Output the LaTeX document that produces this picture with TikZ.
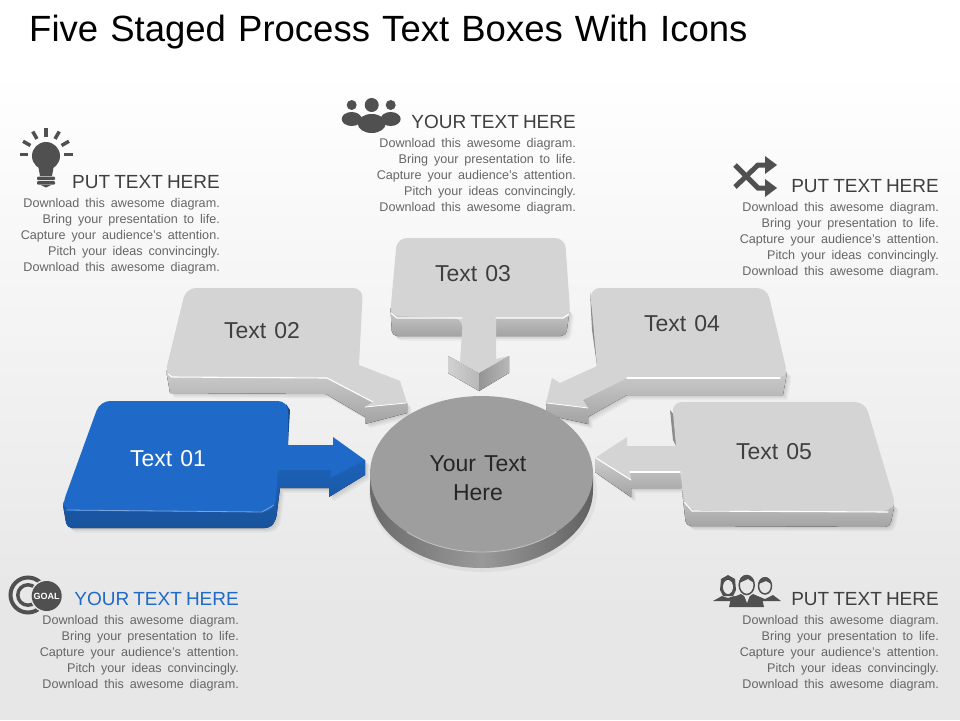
\documentclass[tikz,border=0pt]{standalone}
\usepackage{fontspec}
\setmainfont{Liberation Sans}
\newcommand{\wordgap}[1]{\spaceskip #1em\relax}
\newcommand{\blurbtext}{Download this awesome diagram.\\Bring your presentation to life.\\Capture your audience's attention.\\Pitch your ideas convincingly.\\Download this awesome diagram.}
\definecolor{icongrey}{HTML}{505050}
\definecolor{bodygrey}{HTML}{666666}
\definecolor{headgrey}{HTML}{3F3F3F}
\definecolor{goalblue}{HTML}{1F6AC8}
\definecolor{pagegrey}{HTML}{E7E7E7}

\begin{document}
\begin{tikzpicture}[x=1pt,y=-1pt]
	\tikzstyle{softshade}=[preaction={fill=black,fill opacity=.05,transform canvas={xshift=1.5pt,yshift=-1.5pt}},preaction={fill=black,fill opacity=.05,transform canvas={xshift=3pt,yshift=-3pt}},preaction={fill=black,fill opacity=.04,transform canvas={xshift=4.5pt,yshift=-4.5pt}}]
	\tikzstyle{greyside}=[top color=black!20,bottom color=black!36]
	\tikzstyle{greytop}=[fill=black!17]
	\tikzstyle{glint}=[draw=white,line width=1.1pt,line cap=round]
	\tikzstyle{boxlabel}=[font=\fontsize{23}{26}\selectfont\wordgap{.35},text=headgrey]
	\tikzstyle{captionhead}=[anchor=base east,inner sep=0pt,font=\fontsize{19}{20}\selectfont\wordgap{.216}]
	\tikzstyle{captionbody}=[anchor=north east,inner sep=0pt,align=right,text=bodygrey,font=\fontsize{12.6}{16}\selectfont\wordgap{.47}]
	\tikzstyle{icon}=[fill=icongrey,draw=none]
	\tikzstyle{iconline}=[draw=icongrey,line width=5pt]

	% page
	\useasboundingbox (0,0) rectangle (960,720);
	\fill[white] (0,0) rectangle (960,720);
	\fill[top color=white,bottom color=pagegrey] (0,70) rectangle (960,610);
	\fill[pagegrey] (0,610) rectangle (960,720);
	\node[anchor=base west,inner sep=0pt,font=\fontsize{36.5}{40}\selectfont\wordgap{.334}] (title) at (29,41) {Five Staged Process Text Boxes With Icons};

	% box 02
	\fill[greyside,softshade] (166,370) -- (170,393) -- (326,394) -- (365,417) -- (365,424) -- (407,413) -- (407,403) -- (327,370) -- cycle;
	\fill[greytop] (359,365) -- (400,381) -- (407,403) -- (365,407) -- (373,402) -- (327,378) [rounded corners=5pt] -- (170,377) -- (166,370) [rounded corners=10pt] -- (186,288) -- (363,288) [sharp corners] -- cycle;
	\draw[glint] (168,374) -- (172,377) -- (327,378) -- (373,402);
	\draw[glint,line width=.8pt] (365,407) -- (406,403);

	% box 03
	\fill[greyside,softshade] (390.5,308) [rounded corners=5pt] -- (392,336) -- (566,336) -- (570,308) [sharp corners] -- cycle;
	\fill[left color=black!18,right color=black!28] (448,356) -- (448,373) -- (479,391) -- (479,373) -- cycle;
	\fill[left color=black!42,right color=black!28] (479,373) -- (479,391) -- (509,373) -- (509,356) -- cycle;
	\fill[greytop] (463,318) -- (460,363) -- (448,356) -- (479,373) -- (509,356) -- (496,359) -- (496,318) [rounded corners=6pt] -- (569,318) -- (570,310) [rounded corners=10pt] -- (565,238) -- (397,238) -- (390,316) -- cycle;
	\draw[glint] (391,313) -- (397,318) -- (462,318);
	\draw[glint] (496,318) -- (563,318) -- (569,314);

	% box 04
	\fill[black!45] (590,292) -- (592,330) -- (597,366) -- (599,366) -- cycle;
	\fill[greyside,softshade] (787,372) -- (783,395) -- (627,395) -- (588,417) -- (588,424) -- (547,415) -- (546,402) -- (627,370) -- cycle;
	\fill[greytop] (597,366) -- (560,383) -- (552,378) -- (546,403) -- (588,408) -- (583,400) -- (627,378) [rounded corners=6pt] -- (782,378) -- (787,372) [rounded corners=10pt] -- (767,288) -- (590,288) [sharp corners] -- cycle;
	\draw[glint] (627,378) -- (780,378);
	\draw[glint,line width=.8pt] (547,403) -- (588,408);

	% box 05
	\fill[black!45] (670,410) -- (673,440) -- (676,446) -- (678,420) -- cycle;
	\fill[greyside,softshade] (682,490) [rounded corners=5pt] -- (686,526) -- (890,527) -- (895,503) [sharp corners] -- cycle;
	\fill[greyside,softshade] (681,465) -- (681,488) -- (631,488) -- (631,497) -- (595,472) -- (595,458) -- cycle;
	\fill[greytop] (676,446) -- (627,446) -- (627,437) -- (595,458) -- (631,480) -- (630,472) -- (680,472) [rounded corners=10pt] -- (686,510) -- (890,512) [rounded corners=5pt] -- (895,503) [rounded corners=10pt] -- (865,402) -- (672,402) [sharp corners] -- cycle;
	\draw[glint] (596,458) -- (631,480);
	\draw[glint] (630,472) -- (680,472);
	\draw[glint] (684,502) -- (692,511) -- (888,512);

	% box 01
	\fill[top color=goalblue!92!black,bottom color=goalblue!78!black,softshade] (63,505) [rounded corners=5pt] -- (67,528) -- (270,528) -- (276,520) [sharp corners] -- (280,488) -- (329,488) -- (329,497) -- (365,475) -- (365,460) -- (278,460) -- cycle;
	\fill[goalblue!70!black] (286,404) -- (290,410) -- (288,445) -- (284,445) -- cycle;
	\fill[goalblue] (288,445) -- (333,445) -- (333,437) -- (365,460) -- (330,478) -- (331,470) -- (278,470) [rounded corners=10pt] -- (275,510) -- (262,512) -- (63,511) [rounded corners=8pt] -- (63,503) [rounded corners=10pt] -- (100,401) -- (288,401) [sharp corners] -- cycle;
	\draw[white!40!goalblue,line width=.8pt] (66,510) -- (262,512) -- (274,505);

	% centre disc
	\fill[black!20,opacity=.35] (483,492) ellipse (114 and 80);
	\path[left color=black!58,right color=black!62,middle color=black!40] (370,476) -- (370,490) arc[start angle=180,end angle=0,x radius=111.5,y radius=78] -- (593,476) -- cycle;
	\fill[black!38] (481.5,474) ellipse (111.5 and 78);
	\draw[white!75!black,line width=.9pt] (407,532) arc[start angle=132,end angle=48,x radius=111.5,y radius=78];

	% box labels
	\foreach \name/\x/\y in {02/262/331, 03/473/274, 04/682/324, 05/774/452}
	\node[boxlabel] (box-\name) at (\x,\y) {Text \name};
	\node[boxlabel,text=white] (box-01) at (168,459) {Text 01};
	\node[boxlabel,text=black!85,align=center] (hub) at (478,478) {Your Text\\[3pt]Here};

	% captions
	\foreach \name/\x/\y/\head/\col in {a/220/188/PUT/headgrey, b/576/128/YOUR/headgrey, c/939/192/PUT/headgrey, d/239/605/YOUR/goalblue, e/939/605/PUT/headgrey} {
		\node[captionhead,text=\col] (head-\name) at (\x,\y) {\head{} TEXT HERE};
		\node[captionbody] (body-\name) at (\x,\y+10) {\blurbtext};
	}

	% bulb icon
	\fill[icon] (46,156) circle (14);
	\fill[icon] (38,165) -- (54,165) -- (52,176) -- (40,176) -- cycle;
	\fill[icon,rounded corners=1pt] (37,176.5) rectangle (55,180);
	\fill[icon,rounded corners=1pt] (37,181) rectangle (55,184.5);
	\fill[icon] (41,185) -- (51,185) -- (46,187.5) -- cycle;
	\foreach \ang in {180,210,240,270,300,330,0}
	\draw[icongrey,line width=3.5pt] (46,154.5) ++(\ang:18) -- ++(\ang:8.5);

	% team icon
	\foreach \x/\y/\r in {351.7/105/5, 390.7/105/5} {
		\fill[icon] (\x,\y) circle (\r);
		\fill[icon] (\x,119) ellipse (10 and 7);
	}
	\fill[icon] (371.7,105) circle (7);
	\fill[icon] (371.7,123.5) ellipse (14 and 9.5);

	% shuffle icon
	\draw[iconline] (735,187) -- (758,165) -- (768,165);
	\draw[iconline] (735,165) -- (758,188) -- (768,188);
	\fill[icon] (765,156) -- (777,165) -- (765,174) -- cycle;
	\fill[icon] (765,179) -- (777,188) -- (765,197) -- cycle;

	% goal icon
	\draw[icongrey,line width=4pt] (28,595) circle (17.5);
	\draw[icongrey,line width=3.5pt] (28,595) circle (10.2);
	\fill[pagegrey] (46.7,596) circle (16.5);
	\node[circle,fill=icongrey,text=white,inner sep=0pt,minimum size=30pt,font=\bfseries\fontsize{9}{10}\selectfont] (goal) at (46.7,596) {GOAL};

	% people icon
	\fill[icon] (713,601) -- (722,596) -- (728,598) -- (734,596) -- (742,601) -- cycle;
	\fill[icon] (757,596) -- (765,599) -- (773,595) -- (781,601) -- (757,601) -- cycle;
	\fill[icon] (729,607) -- (731,598) -- (741,594) -- (747,598) -- (753,594) -- (762,598) -- (764,607) -- cycle;
	\fill[pagegrey] (744,595) -- (750,595) -- (747,603) -- cycle;
	\fill[icon] (728,575) -- (735,579) -- (736,590) -- (733,596) -- (723,596) -- (720,590) -- (721,579) -- cycle;
	\fill[pagegrey] (728,587) ellipse (5 and 7);
	\draw[icongrey,fill=pagegrey,line width=1.5pt] (765,586) ellipse (6.5 and 8);
	\fill[icon] (758.5,584) arc[start angle=180,end angle=360,x radius=6.5,y radius=7] -- (766,581) -- cycle;
	\draw[icongrey,fill=pagegrey,line width=1.5pt] (746.7,585) ellipse (7.5 and 9.5);
	\fill[icon] (739.2,583) arc[start angle=180,end angle=360,x radius=7.5,y radius=8] -- (748,579) -- cycle;
\end{tikzpicture}
\end{document}
